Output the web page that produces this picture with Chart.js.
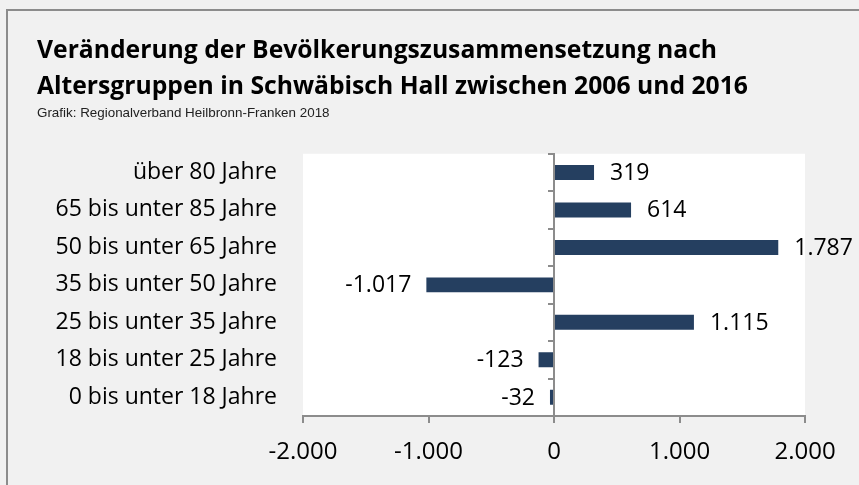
<!DOCTYPE html>
<html>
<head>
<meta charset="utf-8">
<script src="https://cdn.jsdelivr.net/npm/chart.js@4.4.1/dist/chart.umd.min.js"></script>
<style>
html, body { margin: 0; padding: 0; background: #f1f1f1; overflow: hidden; }
#frame { position: absolute; left: 6px; top: 9px; width: 900px; height: 520px;
         border-left: 2px solid #8c8c8c; border-top: 2px solid #8c8c8c; }
#wrap { position: absolute; left: 0; top: 0; width: 859px; height: 485px; }
</style>
</head>
<body>
<div id="frame"></div>
<div id="wrap"><canvas id="chart"></canvas></div>
<script>
// Altersgruppen, von oben nach unten
const categories = [
    'über 80 Jahre',
    '65 bis unter 85 Jahre',
    '50 bis unter 65 Jahre',
    '35 bis unter 50 Jahre',
    '25 bis unter 35 Jahre',
    '18 bis unter 25 Jahre',
    '0 bis unter 18 Jahre'
];
const changes = [319, 614, 1787, -1017, 1115, -123, -32];
const xTicks = [-2000, -1000, 0, 1000, 2000];

const titleLines = [
    'Veränderung der Bevölkerungszusammensetzung nach',
    'Altersgruppen in Schwäbisch Hall zwischen 2006 und 2016'
];
const source = 'Grafik: Regionalverband Heilbronn-Franken 2018';

const FONT = '"Open Sans", "Noto Sans", sans-serif';

function fmt(v) {
    const s = Math.abs(Math.round(v)).toString().replace(/\B(?=(\d{3})+(?!\d))/g, '.');
    return (v < 0 ? '-' : '') + s;
}

const plotBackground = {
    id: 'plotBackground',
    beforeDraw(chart) {
        const a = chart.chartArea;
        const ctx = chart.ctx;
        ctx.save();
        ctx.fillStyle = '#ffffff';
        ctx.fillRect(a.left, a.top, a.right - a.left, a.bottom - a.top);
        ctx.restore();
    }
};

const valueLabels = {
    id: 'valueLabels',
    afterDatasetsDraw(chart) {
        const ctx = chart.ctx;
        const meta = chart.getDatasetMeta(0);
        ctx.save();
        ctx.font = '23px ' + FONT;
        ctx.fillStyle = '#000';
        ctx.textBaseline = 'middle';
        meta.data.forEach((bar, i) => {
            const v = changes[i];
            if (v >= 0) {
                ctx.textAlign = 'left';
                ctx.fillText(fmt(v), bar.x + 16, bar.y + 1);
            } else {
                ctx.textAlign = 'right';
                ctx.fillText(fmt(v), bar.x - 15, bar.y + 1);
            }
        });
        ctx.restore();
    }
};

new Chart(document.getElementById('chart'), {
    type: 'bar',
    data: {
        labels: categories,
        datasets: [{
            data: changes,
            backgroundColor: '#253f60',
            borderWidth: 0,
            barPercentage: 0.4,
            categoryPercentage: 1.0
        }]
    },
    options: {
        indexAxis: 'y',
        responsive: true,
        maintainAspectRatio: false,
        animation: false,
        layout: { padding: { left: 37, right: 54, top: 0, bottom: 0 } },
        plugins: {
            legend: { display: false },
            tooltip: { enabled: false },
            title: {
                display: true,
                text: titleLines,
                align: 'start',
                color: '#000',
                font: { family: FONT, size: 24.7, weight: 'bold', lineHeight: '36px' },
                padding: { top: 33, bottom: 0 }
            },
            subtitle: {
                display: true,
                text: source,
                align: 'start',
                color: '#222',
                font: { family: '"Liberation Sans", Arial, sans-serif', size: 13.4, lineHeight: 1.1 },
                padding: { top: 1, bottom: 33 }
            }
        },
        scales: {
            x: {
                min: -2000,
                max: 2000,
                afterBuildTicks(scale) {
                    scale.ticks = xTicks.map(v => ({ value: v }));
                },
                afterFit(scale) { scale.height = 69; },
                ticks: {
                    color: '#000',
                    font: { family: FONT, size: 24 },
                    padding: 15,
                    maxRotation: 0,
                    callback: v => fmt(v)
                },
                grid: {
                    drawOnChartArea: false,
                    drawTicks: true,
                    tickLength: 7,
                    color: '#8c8c8c',
                    lineWidth: 2
                },
                border: { display: true, color: '#8c8c8c', width: 2 }
            },
            y: {
                afterFit(scale) { scale.width = 266; },
                ticks: {
                    color: '#000',
                    font: { family: FONT, size: 23 },
                    padding: 26
                },
                grid: { display: false, drawTicks: false },
                border: { display: false }
            },
            yZero: {
                type: 'category',
                axis: 'y',
                position: { x: 0 },
                offset: true,
                ticks: { display: false },
                grid: {
                    offset: true,
                    drawOnChartArea: false,
                    drawTicks: true,
                    tickLength: 5,
                    color: '#8c8c8c',
                    lineWidth: 2
                },
                border: { display: true, color: '#8c8c8c', width: 2 }
            }
        }
    },
    plugins: [plotBackground, valueLabels]
});
</script>
</body>
</html>
